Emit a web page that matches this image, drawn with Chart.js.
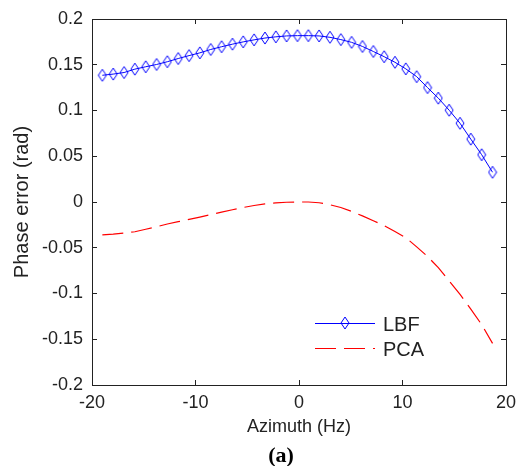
<!DOCTYPE html>
<html lang="en">
<head>
  <meta charset="UTF-8">
  <title>Phase error vs azimuth</title>
  <script src="https://cdn.jsdelivr.net/npm/chart.js"></script>
  <style>
    body { margin: 0; background: #fff; }
    #wrap { width: 516px; height: 466px; }
  </style>
</head>
<body>
<div id="wrap"><canvas id="phaseChart" width="516" height="466"></canvas></div>

<script>
  // azimuth frequency of each sample (Hz)
  const azimuthHz = [-19.0, -17.95, -16.9, -15.86, -14.81, -13.76, -12.72, -11.67, -10.62, -9.58,
    -8.53, -7.48, -6.43, -5.39, -4.34, -3.29, -2.24, -1.2, -0.15, 0.9,
    1.94, 2.99, 4.04, 5.08, 6.13, 7.18, 8.23, 9.27, 10.32, 11.37,
    12.42, 13.46, 14.51, 15.56, 16.6, 17.65, 18.7];

  // phase error (rad)
  const lbfError = [0.1385, 0.1398, 0.1415, 0.1452, 0.1478, 0.1503, 0.1533, 0.1568, 0.160, 0.163,
    0.1667, 0.1697, 0.1725, 0.175, 0.1772, 0.1792, 0.1805, 0.1815, 0.1818, 0.1818,
    0.1815, 0.180, 0.1775, 0.1745, 0.170, 0.1645, 0.1588, 0.1527, 0.1455, 0.137,
    0.125, 0.1135, 0.1003, 0.086, 0.0687, 0.0517, 0.0325];

  const pcaError = [-0.036, -0.0352, -0.034, -0.0325, -0.0298, -0.027, -0.024, -0.0215, -0.019, -0.0165,
    -0.0138, -0.011, -0.0085, -0.006, -0.0038, -0.002, -0.001, -0.0003, 0, 0,
    -0.0008, -0.003, -0.006, -0.0103, -0.0152, -0.0205, -0.0258, -0.0323, -0.039, -0.049,
    -0.0595, -0.0717, -0.0864, -0.101, -0.117, -0.134, -0.1545];

  const seriesNames = ['LBF', 'PCA'];
  const xTicks = [-20, -10, 0, 10, 20];
  const yTicks = [-0.2, -0.15, -0.1, -0.05, 0, 0.05, 0.1, 0.15, 0.2];
  const yTickLabels = ['-0.2', '-0.15', '-0.1', '-0.05', '0', '0.05', '0.1', '0.15', '0.2'];
  const caption = '(a)';

  const FONT = '"Liberation Sans", Arial, sans-serif';
  const INK = '#222';

  // tall open diamond like the matlab marker
  function diamondMarker() {
    const c = document.createElement('canvas');
    c.width = 10; c.height = 14;
    const g = c.getContext('2d');
    g.strokeStyle = '#0000ff';
    g.lineWidth = 1;
    g.beginPath();
    g.moveTo(5, 1); g.lineTo(9, 7); g.lineTo(5, 13); g.lineTo(1, 7);
    g.closePath();
    g.stroke();
    return c;
  }

  // legend inside the axes + the (a) caption under the figure
  const plotExtras = {
    id: 'plotExtras',
    afterDraw(chart) {
      const { ctx, chartArea: a } = chart;
      const x0 = a.left + 223, x1 = a.left + 283, tx = a.left + 291;
      const rows = [a.top + 304, a.top + 329];
      ctx.save();
      chart.data.datasets.forEach((ds, i) => {
        const y = rows[i] + 0.5;
        ctx.strokeStyle = ds.borderColor;
        ctx.lineWidth = ds.borderWidth;
        ctx.setLineDash(ds.borderDash || []);
        ctx.beginPath();
        ctx.moveTo(x0, y);
        ctx.lineTo(x1, y);
        ctx.stroke();
        ctx.setLineDash([]);
        if (ds.pointStyle instanceof HTMLCanvasElement) {
          ctx.drawImage(ds.pointStyle, Math.round((x0 + x1) / 2) - 5, rows[i] - 7);
        }
        ctx.fillStyle = INK;
        ctx.font = '20px ' + FONT;
        ctx.textAlign = 'left';
        ctx.textBaseline = 'alphabetic';
        ctx.fillText(ds.label, tx, rows[i] + 8);
      });
      ctx.font = 'bold 22px "Liberation Serif", "Times New Roman", serif';
      ctx.fillStyle = '#000';
      ctx.textAlign = 'center';
      ctx.textBaseline = 'middle';
      ctx.fillText(caption, 281, 456);
      ctx.restore();
    }
  };

  const setTicks = list => scale => { scale.ticks = list.map(v => ({ value: v })); };

  const edgeAxis = (position, list, min, max) => ({
    type: 'linear',
    position: position,
    min: min,
    max: max,
    afterBuildTicks: setTicks(list),
    ticks: { display: false },
    grid: { drawOnChartArea: false, tickLength: -5, color: INK },
    border: { display: true, color: INK, width: 1 },
    afterFit: s => {
      if (position === 'top') s.height = 0; else s.width = 0;
      s.paddingLeft = s.paddingRight = s.paddingTop = s.paddingBottom = 0;
    }
  });

  const ctx = document.getElementById('phaseChart').getContext('2d');
  new Chart(ctx, {
    type: 'line',
    data: {
      datasets: [
        {
          label: seriesNames[0],
          data: azimuthHz.map((x, i) => ({ x: x, y: lbfError[i] })),
          borderColor: '#0000ff',
          borderWidth: 1,
          pointStyle: diamondMarker(),
          pointRadius: 5,
          fill: false
        },
        {
          label: seriesNames[1],
          data: azimuthHz.map((x, i) => ({ x: x, y: pcaError[i] })),
          borderColor: '#ff0000',
          borderWidth: 1.2,
          borderDash: [21, 8],
          pointRadius: 0,
          fill: false
        }
      ]
    },
    options: {
      responsive: false,
      animation: false,
      layout: { padding: { top: 19, right: 10, left: 0, bottom: 0 } },
      plugins: {
        legend: { display: false },
        tooltip: { enabled: false }
      },
      scales: {
        x: {
          type: 'linear',
          position: 'bottom',
          min: -20,
          max: 20,
          afterBuildTicks: setTicks(xTicks),
          ticks: { color: INK, font: { family: FONT, size: 18 }, padding: 12, maxRotation: 0 },
          grid: { drawOnChartArea: false, tickLength: -5, color: INK },
          border: { display: true, color: INK, width: 1 },
          title: {
            display: true,
            text: 'Azimuth (Hz)',
            color: INK,
            font: { family: FONT, size: 18 },
            padding: { top: 0, bottom: 28 }
          },
          afterFit: s => {
            s.height = 81;
            s.paddingLeft = 0;
            s.paddingRight = 0;
          }
        },
        y: {
          type: 'linear',
          position: 'left',
          min: -0.2,
          max: 0.2,
          afterBuildTicks: setTicks(yTicks),
          ticks: {
            color: INK,
            font: { family: FONT, size: 18 },
            padding: 14,
            callback: v => yTickLabels[yTicks.indexOf(v)]
          },
          grid: { drawOnChartArea: false, tickLength: -5, color: INK },
          border: { display: true, color: INK, width: 1 },
          title: {
            display: true,
            text: 'Phase error (rad)',
            color: INK,
            font: { family: FONT, size: 20 },
            padding: { top: 10, bottom: 0 }
          },
          afterFit: s => {
            s.width = 92;
            s.paddingTop = 0;
            s.paddingBottom = 0;
          }
        },
        xTop: edgeAxis('top', xTicks, -20, 20),
        yRight: edgeAxis('right', yTicks, -0.2, 0.2)
      }
    },
    plugins: [plotExtras]
  });
</script>
</body>
</html>
